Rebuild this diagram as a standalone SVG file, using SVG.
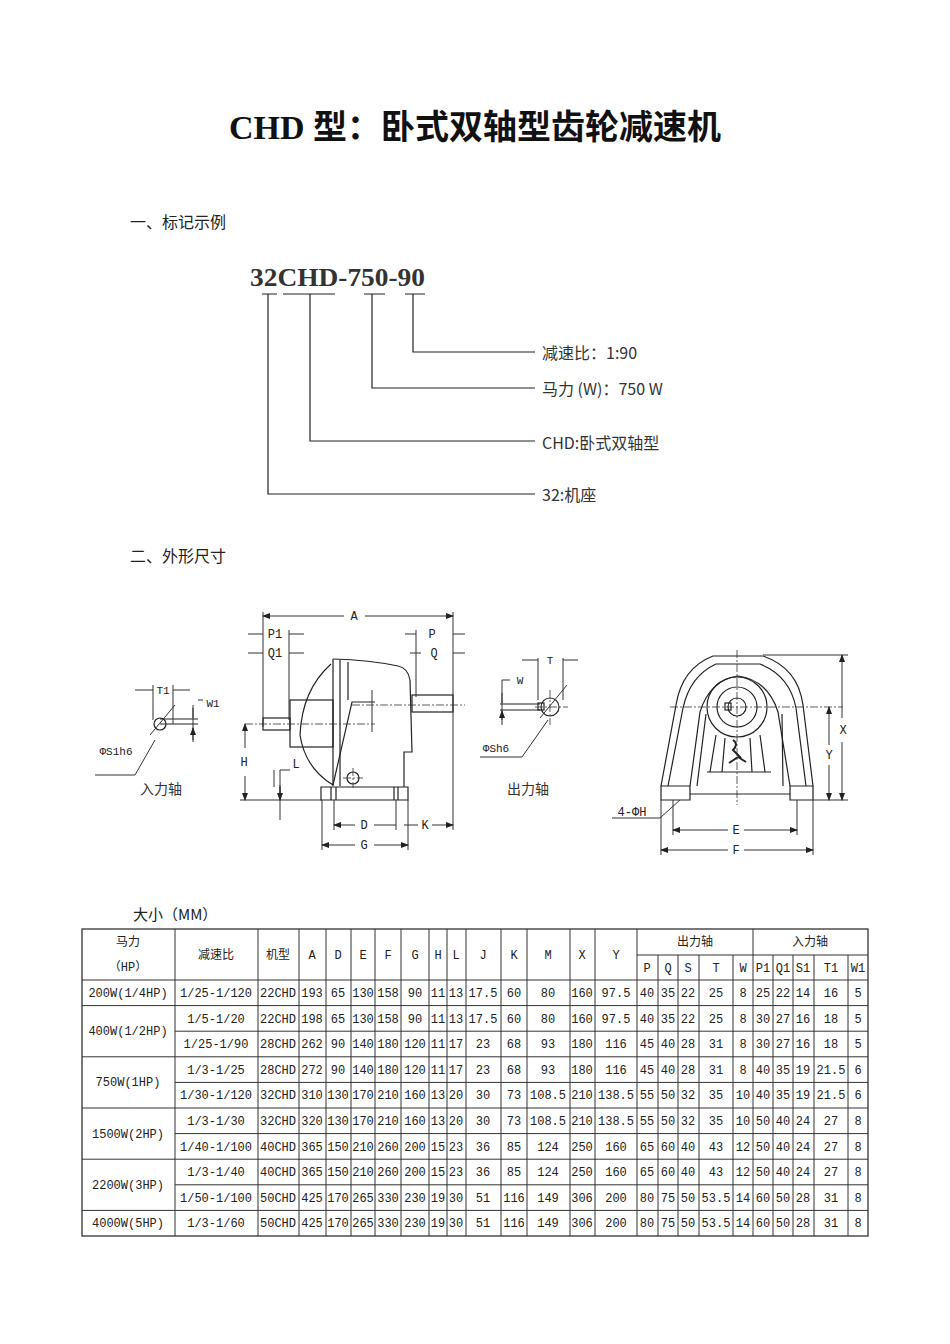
<svg xmlns="http://www.w3.org/2000/svg" width="950" height="1344" viewBox="0 0 950 1344">
<style>
.t{font-family:"Liberation Mono","Noto Sans CJK SC",monospace;font-size:12px;fill:#222;text-anchor:middle}
.h{font-family:"Noto Sans CJK SC",sans-serif;font-size:16px;fill:#222}
.d{font-family:"Liberation Mono","Noto Sans CJK SC",monospace;font-size:11px;fill:#222;text-anchor:middle}
.ln{stroke:#222;fill:none;stroke-width:1.2}
.tl{stroke:#333;fill:none;stroke-width:1}
.c{stroke:#333;stroke-width:0.8;stroke-dasharray:8 2 2 2;fill:none}
</style>
<defs>
<marker id="a" markerWidth="8" markerHeight="6" refX="7" refY="3" orient="auto-start-reverse" markerUnits="userSpaceOnUse"><path d="M0,0 L8,3 L0,6z" fill="#222"/></marker>
</defs>
<rect width="950" height="1344" fill="#fff"/>
<text x="475" y="139" style="font-family:'Liberation Serif','Noto Sans CJK SC',serif;font-size:34px;font-weight:bold;text-anchor:middle;fill:#111">CHD 型：卧式双轴型齿轮减速机</text>
<text x="130" y="228" class="h">一、标记示例</text>
<text x="130" y="562" class="h">二、外形尺寸</text>
<text x="133" y="920" class="h" style="font-size:15px">大小（MM）</text>

<g id="code">
<text x="250" y="286" textLength="175" lengthAdjust="spacingAndGlyphs" style="font-family:'Liberation Serif',serif;font-size:26px;font-weight:bold;fill:#333">32CHD-750-90</text>
<g class="ln">
<path d="M262,294 H277 M283,294 H335 M364,294 H385 M405,294 H425"/>
<path d="M268,294 V494 H535 M310,294 V441 H535 M372,294 V388 H535 M413,294 V352 H535"/>
</g>
<g style="font-family:'Noto Sans CJK SC',sans-serif;font-size:16px;fill:#333">
<text x="542" y="359">减速比：1:90</text>
<text x="542" y="395">马力 (W)：750 W</text>
<text x="542" y="449">CHD:卧式双轴型</text>
<text x="542" y="501">32:机座</text>
</g>
</g>

<g id="side-view">
<g class="ln">
<path d="M333,659 Q370,660 398,666 Q408,668 410,680 L412,752 L404,752 L404,787"/>
<path d="M333,659 L333,786 M340,660 V786 M348,662 V700"/>
<path d="M331,664 Q302,690 300,735 Q305,768 333,785"/>
<rect x="290" y="700" width="43" height="47"/>
<rect x="263" y="718" width="27" height="12"/>
<rect x="412" y="695" width="41" height="17"/>
<path d="M333,785 L352,702 H375"/>
<path d="M321,787 H408 V800 H321 Z"/>
<path d="M331,787 V800 M336,787 V800 M394,787 V800 M398,787 V800"/>
<circle cx="353" cy="778" r="6"/>
</g>
<path class="c" d="M245,724 H375 M352,705 H465 M353,768 V788 M343,778 H363"/>
<g class="tl">
<path d="M263,612 V727 M453,612 V830 M289,630 V720 M416,630 V697 M240,800 H322 M322,800 V850 M408,800 V850 M334,800 V830 M396,800 V830 M280,770 V820 M274,770 V787 M372,690 V732"/>
<path d="M263,616 H344 M365,616 H453" marker-start="url(#a)" marker-end="url(#a)"/>
<path d="M245,724 V748 M245,776 V800" marker-start="url(#a)" marker-end="url(#a)"/>
<path d="M334,825 H355 M374,825 H396 M404,825 H418 M432,825 H453" marker-start="url(#a)" marker-end="url(#a)"/>
<path d="M322,845 H355 M374,845 H408" marker-start="url(#a)" marker-end="url(#a)"/>
<path d="M248,634 H263 M289,634 H304 M248,653 H263 M289,653 H304 M405,634 H416 M453,634 H465 M410,653 H421 M453,653 H465 M280,795 V787 M280,785 V800" marker-end="url(#a)"/>
<path d="M280,770 H290"/>
</g>
<g class="d" style="font-size:12px">
<text x="354" y="620">A</text><text x="275" y="638">P1</text><text x="275" y="657">Q1</text>
<text x="432" y="638">P</text><text x="434" y="657">Q</text>
<text x="244" y="766">H</text><text x="296" y="768">L</text>
<text x="364" y="829">D</text><text x="425" y="829">K</text><text x="364" y="849">G</text>
</g>
</g>

<g id="input-shaft">
<g class="ln"><circle cx="160" cy="724" r="6"/><path d="M160,724 H198 M160,719 H198"/></g>
<g class="tl">
<path d="M153,685 V720 M173,685 V724 M193,705 V742 M198,700 H203 M155,740 L135,775 H95 M150,735 L175,705"/>
<path d="M135,690 H153 M190,690 H173 M193,708 V718 M193,740 V728" marker-end="url(#a)"/>
</g>
<text class="d" x="163" y="694">T1</text><text class="d" x="213" y="707">W1</text>
<text class="d" x="116" y="755">ΦS1h6</text>
<text x="140" y="794" style="font-family:'Noto Sans CJK SC',sans-serif;font-size:14px;fill:#333">入力轴</text>
</g>

<g id="output-shaft">
<g class="ln"><circle cx="550" cy="707" r="9"/><rect x="538" y="703" width="6" height="7"/><path d="M500,704 H540 M500,710 H540"/></g>
<g class="c"><path d="M535,707 H568 M550,690 V725"/></g>
<g class="tl">
<path d="M538,658 V700 M563,658 V700 M502,680 V725 M502,680 H510 M548,720 L522,757 H480 M540,718 L567,685"/>
<path d="M522,660 H538 M578,660 H563 M502,693 V703 M502,720 V711" marker-end="url(#a)"/>
</g>
<text class="d" x="550" y="664">T</text><text class="d" x="520" y="684">W</text>
<text class="d" x="496" y="752">ΦSh6</text>
<text x="507" y="794" style="font-family:'Noto Sans CJK SC',sans-serif;font-size:14px;fill:#333">出力轴</text>
</g>

<g id="end-view">
<g class="ln">
<path d="M661,786 L676,705 Q682,668 713,656 L763,656 Q798,668 803,705 L813,786"/>
<path d="M668,786 L683,708 Q690,676 716,664 L760,664 Q790,676 796,708 L806,786"/>
<path d="M690,786 L700,712 Q710,680 738,676 Q768,680 778,712 L790,786"/>
<path d="M697,786 L706,714 M782,714 L783,786"/>
<path d="M661,786 H690 V800 H661 Z M790,786 H813 V800 H790 Z M690,794 H790"/>
<path d="M707,772 H771"/>
<circle cx="737" cy="707" r="30"/><circle cx="737" cy="707" r="20"/><circle cx="737" cy="707" r="9"/>
<rect x="725" y="703" width="6" height="7"/>
<path d="M716,735 L710,772 M725,738 L722,772 M750,738 L752,772 M760,735 L765,772"/>
</g>
<path d="M733,740 q6,4 0,10 l8,8 M738,757 l-9,6 M738,757 l8,5" class="ln" style="stroke-width:2"/>
<g class="c"><path d="M737,650 V805 M670,707 H843"/></g>
<g class="tl">
<path d="M763,655 H848 M813,800 H848 M673,800 V835 M797,800 V835 M661,800 V855 M813,800 V855 M680,800 L660,818 H612"/>
<path d="M842,655 V718 M842,742 V800" marker-start="url(#a)" marker-end="url(#a)"/>
<path d="M829,707 V745 M829,765 V800" marker-start="url(#a)" marker-end="url(#a)"/>
<path d="M673,830 H728 M744,830 H797" marker-start="url(#a)" marker-end="url(#a)"/>
<path d="M661,850 H728 M744,850 H813" marker-start="url(#a)" marker-end="url(#a)"/>
</g>
<g class="d" style="font-size:12px"><text x="843" y="734">X</text><text x="829" y="759">Y</text><text x="736" y="834">E</text><text x="736" y="854">F</text><text x="632" y="816">4-ΦH</text></g>
</g>

<g id="table">
<g stroke="#333" stroke-width="1" fill="none">
<rect x="82" y="929" width="786" height="307" stroke-width="1.3"/>
<path d="M637,955 H868 M82,980 H868 M82,1005.6 H868 M175,1031.2 H868 M82,1056.8 H868 M175,1082.4 H868 M82,1108 H868 M175,1133.6 H868 M82,1159.2 H868 M175,1184.8 H868 M82,1210.4 H868"/>
<path d="M175,929 V1236 M258,929 V1236 M299,929 V1236 M326,929 V1236 M351,929 V1236 M375,929 V1236 M401,929 V1236 M429,929 V1236 M447,929 V1236 M466,929 V1236 M501,929 V1236 M527,929 V1236 M570,929 V1236 M595,929 V1236 M637,929 V1236 M753,929 V1236"/>
<path d="M658,955 V1236 M678,955 V1236 M699,955 V1236 M733,955 V1236 M773,955 V1236 M793,955 V1236 M814,955 V1236 M848,955 V1236"/>
</g>
<g class="t">
<text x="128" y="946">马力</text><text x="128" y="971">（HP）</text>
<text x="216" y="959">减速比</text><text x="278" y="959">机型</text>
<text x="312" y="959">A</text><text x="338" y="959">D</text><text x="363" y="959">E</text><text x="388" y="959">F</text><text x="415" y="959">G</text><text x="438" y="959">H</text><text x="456" y="959">L</text><text x="483" y="959">J</text><text x="514" y="959">K</text><text x="548" y="959">M</text><text x="582" y="959">X</text><text x="616" y="959">Y</text>
<text x="695" y="946">出力轴</text><text x="810" y="946">入力轴</text>
<text x="647" y="972">P</text><text x="668" y="972">Q</text><text x="688" y="972">S</text><text x="716" y="972">T</text><text x="743" y="972">W</text><text x="763" y="972">P1</text><text x="783" y="972">Q1</text><text x="803" y="972">S1</text><text x="831" y="972">T1</text><text x="858" y="972">W1</text>

<text x="128" y="997">200W(1/4HP)</text>
<text x="128" y="1035">400W(1/2HP)</text>
<text x="128" y="1086">750W(1HP)</text>
<text x="128" y="1138">1500W(2HP)</text>
<text x="128" y="1189">2200W(3HP)</text>
<text x="128" y="1227">4000W(5HP)</text>

<g transform="translate(0,997)"><text x="216">1/25-1/120</text><text x="278">22CHD</text><text x="312">193</text><text x="338">65</text><text x="363">130</text><text x="388">158</text><text x="415">90</text><text x="438">11</text><text x="456">13</text><text x="483">17.5</text><text x="514">60</text><text x="548">80</text><text x="582">160</text><text x="616">97.5</text><text x="647">40</text><text x="668">35</text><text x="688">22</text><text x="716">25</text><text x="743">8</text><text x="763">25</text><text x="783">22</text><text x="803">14</text><text x="831">16</text><text x="858">5</text></g>
<g transform="translate(0,1022.6)"><text x="216">1/5-1/20</text><text x="278">22CHD</text><text x="312">198</text><text x="338">65</text><text x="363">130</text><text x="388">158</text><text x="415">90</text><text x="438">11</text><text x="456">13</text><text x="483">17.5</text><text x="514">60</text><text x="548">80</text><text x="582">160</text><text x="616">97.5</text><text x="647">40</text><text x="668">35</text><text x="688">22</text><text x="716">25</text><text x="743">8</text><text x="763">30</text><text x="783">27</text><text x="803">16</text><text x="831">18</text><text x="858">5</text></g>
<g transform="translate(0,1048.2)"><text x="216">1/25-1/90</text><text x="278">28CHD</text><text x="312">262</text><text x="338">90</text><text x="363">140</text><text x="388">180</text><text x="415">120</text><text x="438">11</text><text x="456">17</text><text x="483">23</text><text x="514">68</text><text x="548">93</text><text x="582">180</text><text x="616">116</text><text x="647">45</text><text x="668">40</text><text x="688">28</text><text x="716">31</text><text x="743">8</text><text x="763">30</text><text x="783">27</text><text x="803">16</text><text x="831">18</text><text x="858">5</text></g>
<g transform="translate(0,1073.8)"><text x="216">1/3-1/25</text><text x="278">28CHD</text><text x="312">272</text><text x="338">90</text><text x="363">140</text><text x="388">180</text><text x="415">120</text><text x="438">11</text><text x="456">17</text><text x="483">23</text><text x="514">68</text><text x="548">93</text><text x="582">180</text><text x="616">116</text><text x="647">45</text><text x="668">40</text><text x="688">28</text><text x="716">31</text><text x="743">8</text><text x="763">40</text><text x="783">35</text><text x="803">19</text><text x="831">21.5</text><text x="858">6</text></g>
<g transform="translate(0,1099.4)"><text x="216">1/30-1/120</text><text x="278">32CHD</text><text x="312">310</text><text x="338">130</text><text x="363">170</text><text x="388">210</text><text x="415">160</text><text x="438">13</text><text x="456">20</text><text x="483">30</text><text x="514">73</text><text x="548">108.5</text><text x="582">210</text><text x="616">138.5</text><text x="647">55</text><text x="668">50</text><text x="688">32</text><text x="716">35</text><text x="743">10</text><text x="763">40</text><text x="783">35</text><text x="803">19</text><text x="831">21.5</text><text x="858">6</text></g>
<g transform="translate(0,1125)"><text x="216">1/3-1/30</text><text x="278">32CHD</text><text x="312">320</text><text x="338">130</text><text x="363">170</text><text x="388">210</text><text x="415">160</text><text x="438">13</text><text x="456">20</text><text x="483">30</text><text x="514">73</text><text x="548">108.5</text><text x="582">210</text><text x="616">138.5</text><text x="647">55</text><text x="668">50</text><text x="688">32</text><text x="716">35</text><text x="743">10</text><text x="763">50</text><text x="783">40</text><text x="803">24</text><text x="831">27</text><text x="858">8</text></g>
<g transform="translate(0,1150.6)"><text x="216">1/40-1/100</text><text x="278">40CHD</text><text x="312">365</text><text x="338">150</text><text x="363">210</text><text x="388">260</text><text x="415">200</text><text x="438">15</text><text x="456">23</text><text x="483">36</text><text x="514">85</text><text x="548">124</text><text x="582">250</text><text x="616">160</text><text x="647">65</text><text x="668">60</text><text x="688">40</text><text x="716">43</text><text x="743">12</text><text x="763">50</text><text x="783">40</text><text x="803">24</text><text x="831">27</text><text x="858">8</text></g>
<g transform="translate(0,1176.2)"><text x="216">1/3-1/40</text><text x="278">40CHD</text><text x="312">365</text><text x="338">150</text><text x="363">210</text><text x="388">260</text><text x="415">200</text><text x="438">15</text><text x="456">23</text><text x="483">36</text><text x="514">85</text><text x="548">124</text><text x="582">250</text><text x="616">160</text><text x="647">65</text><text x="668">60</text><text x="688">40</text><text x="716">43</text><text x="743">12</text><text x="763">50</text><text x="783">40</text><text x="803">24</text><text x="831">27</text><text x="858">8</text></g>
<g transform="translate(0,1201.8)"><text x="216">1/50-1/100</text><text x="278">50CHD</text><text x="312">425</text><text x="338">170</text><text x="363">265</text><text x="388">330</text><text x="415">230</text><text x="438">19</text><text x="456">30</text><text x="483">51</text><text x="514">116</text><text x="548">149</text><text x="582">306</text><text x="616">200</text><text x="647">80</text><text x="668">75</text><text x="688">50</text><text x="716">53.5</text><text x="743">14</text><text x="763">60</text><text x="783">50</text><text x="803">28</text><text x="831">31</text><text x="858">8</text></g>
<g transform="translate(0,1227.4)"><text x="216">1/3-1/60</text><text x="278">50CHD</text><text x="312">425</text><text x="338">170</text><text x="363">265</text><text x="388">330</text><text x="415">230</text><text x="438">19</text><text x="456">30</text><text x="483">51</text><text x="514">116</text><text x="548">149</text><text x="582">306</text><text x="616">200</text><text x="647">80</text><text x="668">75</text><text x="688">50</text><text x="716">53.5</text><text x="743">14</text><text x="763">60</text><text x="783">50</text><text x="803">28</text><text x="831">31</text><text x="858">8</text></g>
</g>
</g>
</svg>
